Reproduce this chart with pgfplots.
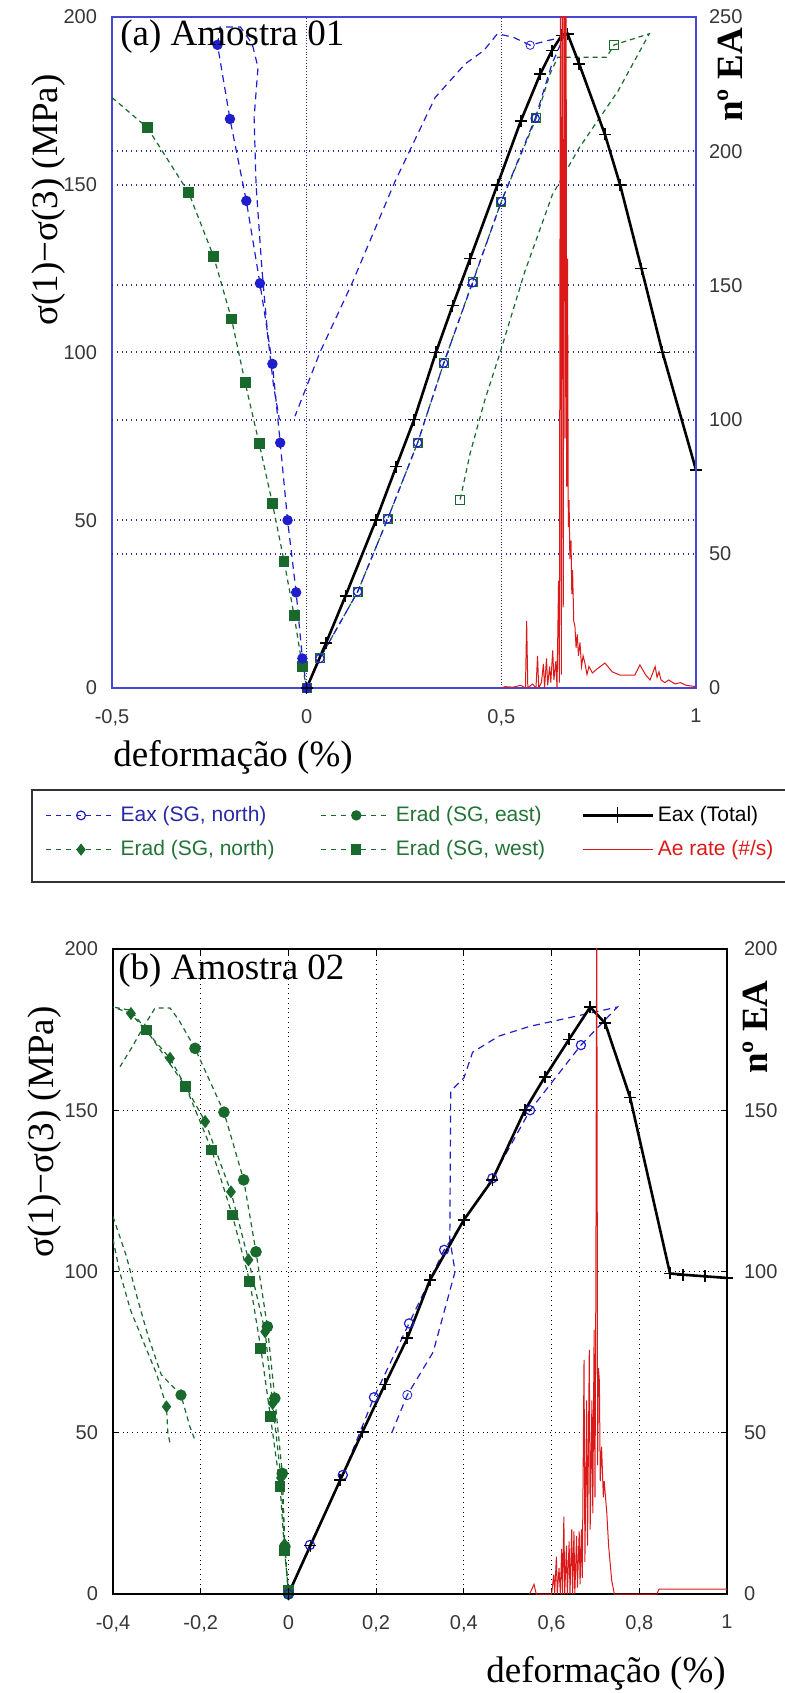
\documentclass[border=0pt]{standalone}
\usepackage{fontspec}
\setmainfont{Liberation Serif}
\newfontfamily\sansf{Liberation Sans}
\usepackage{pgfplots}
\pgfplotsset{compat=1.18}
\definecolor{axblue}{RGB}{70,70,215}
\definecolor{gridblue}{RGB}{45,45,150}
\definecolor{sblue}{RGB}{30,30,205}
\definecolor{sgreen}{RGB}{25,105,45}
\definecolor{sred}{RGB}{220,25,25}
\definecolor{tickgray}{RGB}{55,55,55}
\definecolor{legblue}{RGB}{40,40,165}
\definecolor{leggreen}{RGB}{35,115,55}
\newcommand{\lbl}{\fontsize{18.5}{20}\selectfont}
\pgfplotsset{
 tlab/.style={font=\sansf\fontsize{10}{12}\selectfont, text=tickgray},
 gdash/.style={color=sgreen, dash pattern=on 2.5pt off 2pt, line width=0.6pt, mark options={solid}},
 bdash/.style={color=sblue, dash pattern=on 3.5pt off 2.5pt, line width=0.6pt, mark options={solid}},
 tot/.style={black, line width=1.3pt, mark=+, mark size=3pt, mark options={solid, line width=0.8pt}},
}
\begin{document}
\begin{tikzpicture}
\path[use as bounding box] (0pt,0pt) rectangle (392pt,846.5pt);
% ================= Panel (a) =================
\begin{axis}[
 at={(56pt,502.5pt)}, anchor=south west, scale only axis,
 width=292pt, height=335.5pt,
 xmin=-0.5, xmax=1, ymin=0, ymax=200,
 xtick={-0.5,0,0.5,1}, xticklabels={{-0,5},0,{0,5},1},
 ytick={0,50,100,150,200}, yticklabels={0,50,100,150,200},
 xticklabel style={tlab, yshift=-7pt},
 yticklabel style={tlab, xshift=-4pt},
 major tick length=0pt,
 axis line style={draw=axblue, line width=1pt},
 xmajorgrids, ymajorgrids,
 x grid style={gridblue, densely dotted, line width=0.5pt},
 y grid style={gridblue, dotted, line width=1pt},
 extra y ticks={40,80,120,160}, extra y tick labels={},
 extra y tick style={grid=major, major tick length=0pt},
 legend columns=3,
 legend cell align=left,
 legend image code/.code={\draw[mark repeat=2,mark phase=2,#1] plot coordinates {(0pt,0pt)(17.5pt,0pt)(35pt,0pt)};},
 legend style={at={(-0.1147,-0.2154)}, anchor=west, draw=none, fill=none, inner sep=0pt,
   font=\sansf\fontsize{10.5}{12.5}\selectfont, row sep=6pt,
   nodes={inner sep=1pt},
   /tikz/every odd column/.append style={column sep=1pt},
   /tikz/column 2/.append style={column sep=22pt},
   /tikz/column 4/.append style={column sep=17pt}},
]
\addlegendimage{sblue, dash pattern=on 2.5pt off 2.5pt, line width=0.6pt, mark=o, mark size=2.2pt, mark options={solid}}
\addlegendentry{\textcolor{legblue}{Eax (SG, north)}}
\addlegendimage{sgreen, dash pattern=on 2.5pt off 2.5pt, line width=0.6pt, mark=*, mark size=2.3pt, mark options={solid}}
\addlegendentry{\textcolor{leggreen}{Erad (SG, east)}}
\addlegendimage{black, line width=1.3pt, mark=+, mark size=4pt, mark options={solid, line width=0.8pt}}
\addlegendentry{Eax (Total)}
\addlegendimage{sgreen, dash pattern=on 2.5pt off 2.5pt, line width=0.6pt, mark=diamond*, mark size=2.6pt, mark options={solid}}
\addlegendentry{\textcolor{leggreen}{Erad (SG, north)}}
\addlegendimage{sgreen, dash pattern=on 2.5pt off 2.5pt, line width=0.6pt, mark=square*, mark size=2.3pt, mark options={solid}}
\addlegendentry{\textcolor{leggreen}{Erad (SG, west)}}
\addlegendimage{sred, line width=0.6pt}
\addlegendentry{\textcolor{sred}{Ae rate (\#/s)}}
% Erad (SG, west): green filled squares
\addplot[gdash, mark=square*, mark size=2.4pt, forget plot] coordinates {
(-0.409,167)(-0.303,147.6)(-0.239,128.6)(-0.193,110)(-0.158,91)(-0.122,72.9)(-0.088,55)(-0.058,37.8)(-0.032,21.5)(-0.011,6.4)};
\addplot[gdash, forget plot] coordinates {(-0.5,176)(-0.409,167)};
\addplot[gdash, forget plot] coordinates {(-0.011,6.4)(0,0)};
% second axial gauge: green open squares
\addplot[gdash, mark=square, mark size=2.2pt, forget plot] coordinates {
(0,0)(0.034,8.8)(0.131,28.7)(0.208,50.4)(0.285,73.1)(0.352,96.8)(0.426,121)(0.5,145)(0.59,170)};
\addplot[gdash, forget plot] coordinates {
(0.59,170)(0.625,183)(0.645,188)(0.77,188)(0.79,191.7)(0.88,195)(0.8,178)(0.7,161)(0.631,147)(0.56,124)(0.497,100)(0.458,86)(0.42,70)(0.394,56)};
\addplot[sgreen, only marks, mark=square, mark size=2.2pt, forget plot] coordinates {(0.79,191.7)(0.394,56)};
% blue filled circles (radial)
\addplot[bdash, mark=*, mark size=2.3pt, forget plot] coordinates {
(0,0)(-0.011,8.8)(-0.027,28.5)(-0.049,50)(-0.068,73.1)(-0.088,96.6)(-0.12,120.6)(-0.155,145.2)(-0.197,169.6)(-0.229,191.7)};
\addplot[bdash, forget plot] coordinates {
(-0.229,191.7)(-0.222,197)(-0.17,197)(-0.14,192)(-0.125,185)(-0.135,170)(-0.13,150)(-0.115,125)(-0.1,105)(-0.085,90)(-0.07,80)};
% Eax (SG, north): blue open circles
\addplot[bdash, mark=o, mark size=2.1pt, forget plot] coordinates {
(0,0)(0.034,8.8)(0.131,28.7)(0.208,50.4)(0.285,73.1)(0.352,96.8)(0.426,120.8)(0.5,145)(0.587,169.8)};
\addplot[bdash, forget plot] coordinates {
(0.587,169.8)(0.63,186)(0.66,194)(0.62,193)(0.574,191.6)(0.53,194)(0.49,195)(0.455,190)(0.407,186)(0.33,176)(0.227,151)(0.118,121)(0.034,100)(-0.03,81)};
\addplot[sblue, only marks, mark=o, mark size=2.1pt, forget plot] coordinates {(0.574,191.6)};
% Eax (Total)
\addplot[tot, forget plot] coordinates {
(0,0)(0.05,13.5)(0.1,27.5)(0.178,50)(0.23,66)(0.276,80)(0.332,100)(0.375,114)(0.42,128)(0.49,150)(0.55,169)(0.6,183)(0.63,190)(0.655,194.5)(0.67,195)(0.7,186)(0.766,165)(0.805,150)(0.86,125)(0.914,100)(1.0,65)};
\end{axis}
\begin{axis}[
 at={(56pt,502.5pt)}, anchor=south west, scale only axis,
 width=292pt, height=335.5pt,
 xmin=-0.5, xmax=1, ymin=0, ymax=250,
 axis x line=none, axis y line*=right,
 ytick={0,50,100,150,200,250}, yticklabels={0,50,100,150,200,250},
 yticklabel style={tlab, xshift=3pt},
 major tick length=0pt,
 y axis line style={draw=axblue, line width=1pt},
]
\addplot[sred, line width=0.5pt] coordinates {
(0.5,0)(0.51,0.5)(0.53,0.3)(0.55,1)(0.562,0)(0.565,25)(0.568,0)(0.58,1.5)(0.589,0)(0.593,12)(0.596,0)(0.603,2)(0.608,9)(0.611,0)(0.616,11)(0.619,1)(0.624,8)(0.627,2)(0.632,14)(0.635,3)(0.64,10)(0.643,0)(0.647,40)(0.649,2)(0.652,300)(0.654,5)(0.657,300)(0.659,30)(0.662,300)(0.664,93)(0.666,300)(0.668,75)(0.67,160)(0.672,60)(0.674,70)(0.676,48)(0.679,55)(0.681,35)(0.683,44)(0.686,25)(0.689,23)(0.692,15)(0.695,20)(0.698,12)(0.702,17)(0.706,8)(0.71,12)(0.715,9)(0.72,5)(0.725,8)(0.734,5.6)(0.745,7)(0.766,9.3)(0.785,6)(0.805,4.8)(0.843,4.8)(0.856,8.6)(0.87,5)(0.882,3)(0.89,6)(0.895,8)(0.9,4)(0.905,6)(0.91,3)(0.92,2)(0.93,3)(0.946,1.5)(0.96,2)(0.975,1)(1.0,0.5)};
\end{axis}
% ================= Panel (b) =================
\begin{axis}[
 at={(56.5pt,49.5pt)}, anchor=south west, scale only axis,
 width=307pt, height=322.5pt,
 xmin=-0.4, xmax=1, ymin=0, ymax=200,
 xtick={-0.4,-0.2,0,0.2,0.4,0.6,0.8,1}, xticklabels={{-0,4},{-0,2},0,{0,2},{0,4},{0,6},{0,8},1},
 ytick={0,50,100,150,200}, yticklabels={0,50,100,150,200},
 xticklabel style={tlab, yshift=-7pt},
 yticklabel style={tlab, xshift=-4pt},
 tick align=inside, major tick length=3pt,
 tick style={black, line width=0.6pt},
 axis line style={black, line width=0.7pt},
 xmajorgrids, ymajorgrids,
 grid style={black, dotted, line width=0.6pt},
]
% Erad (SG, west)
\addplot[gdash, mark=square*, mark size=2.4pt] coordinates {
(0,1)(-0.009,13.6)(-0.019,33.3)(-0.041,55)(-0.063,76.2)(-0.088,96.8)(-0.128,117.5)(-0.175,137.7)(-0.234,157.3)(-0.324,174.9)};
\addplot[gdash] coordinates {(-0.324,174.9)(-0.36,181)(-0.4,182)};
% Erad (SG, north)
\addplot[gdash, mark=diamond*, mark size=2.8pt] coordinates {
(0,0)(-0.009,15.3)(-0.017,36)(-0.036,59.1)(-0.053,81.3)(-0.091,103.6)(-0.131,124.7)(-0.19,146.5)(-0.27,166.1)(-0.359,180)};
\addplot[gdash] coordinates {(-0.359,180)(-0.4,182)};
\addplot[gdash] coordinates {(-0.4,110)(-0.385,100)(-0.36,88)(-0.33,78)(-0.3,68)(-0.278,58.1)(-0.275,50)(-0.27,46.8)};
\addplot[sgreen, only marks, mark=diamond*, mark size=2.8pt] coordinates {(-0.278,58.1)};
% Erad (SG, east)
\addplot[gdash, mark=*, mark size=2.6pt] coordinates {
(0,0)(-0.008,14.7)(-0.014,37.4)(-0.031,60.7)(-0.048,82.9)(-0.074,106.1)(-0.102,128.4)(-0.147,149.4)(-0.213,169.2)};
\addplot[gdash] coordinates {(-0.213,169.2)(-0.25,178)(-0.27,181.7)(-0.304,181.7)(-0.33,176)(-0.356,169.7)(-0.384,163.5)};
\addplot[gdash] coordinates {(-0.4,117)(-0.37,105)(-0.345,92)(-0.32,80)(-0.29,68)(-0.245,61.7)(-0.225,52)(-0.213,47.7)};
\addplot[sgreen, only marks, mark=*, mark size=2.6pt] coordinates {(-0.245,61.7)};
% Eax (SG, north)
\addplot[bdash, mark=o, mark size=2.3pt] coordinates {
(0,0)(0.049,15.2)(0.124,36.9)(0.195,61)(0.275,83.9)(0.355,106.7)(0.465,128.9)(0.551,150)(0.667,170.2)};
\addplot[bdash] coordinates {
(0.667,170.2)(0.75,182)(0.65,179)(0.55,176)(0.48,173)(0.42,168)(0.40,160)(0.37,156)(0.368,110)(0.38,100)(0.33,75)(0.271,61.7)(0.232,48.8)};
\addplot[sblue, only marks, mark=o, mark size=2.3pt] coordinates {(0.271,61.7)};
% Eax (Total)
\addplot[tot] coordinates {
(0,0)(0.05,15)(0.118,35.3)(0.169,50.3)(0.22,65)(0.271,79.3)(0.323,97.4)(0.4,116)(0.465,128.4)(0.539,150)(0.585,160.4)(0.64,172)(0.688,182)(0.722,177)(0.779,154)(0.87,99.4)(0.9,99)(0.95,98.5)(1.0,98)};
\end{axis}
\begin{axis}[
 at={(56.5pt,49.5pt)}, anchor=south west, scale only axis,
 width=307pt, height=322.5pt,
 xmin=-0.4, xmax=1, ymin=0, ymax=200,
 axis x line=none, axis y line*=right,
 ytick={0,50,100,150,200}, yticklabels={0,50,100,150,200},
 yticklabel style={tlab, xshift=5pt},
 major tick length=0pt,
 y axis line style={black, line width=0.7pt},
]
\addplot[sred, line width=0.5pt] coordinates {
(0.55,0)(0.56,3)(0.565,0)(0.6,0)(0.605,6)(0.607,0)(0.611,11.6)(0.613,0)(0.617,8)(0.62,0)(0.623,14)(0.625,0)(0.628,24)(0.63,0)(0.634,15)(0.636,0)(0.64,16.3)(0.642,0)(0.646,20)(0.648,0)(0.651,19.4)(0.653,0)(0.657,18)(0.659,2)(0.663,19.4)(0.665,3)(0.668,20)(0.67,5)(0.674,72.6)(0.676,10)(0.68,60)(0.682,15)(0.686,75.7)(0.688,20)(0.692,60)(0.694,25)(0.697,81.9)(0.699,30)(0.701,97)(0.703,220)(0.705,40)(0.707,70)(0.709,66)(0.711,35)(0.714,45.7)(0.718,30)(0.72,35)(0.726,25)(0.73,15)(0.737,4.3)(0.743,0)(0.84,0)(0.845,1.5)(1.0,1.5)};
\end{axis}
% ================= texts =================
\node[anchor=west, font=\lbl, inner sep=0pt] at (60pt,828pt) {(a) Amostra 01};
\node[font=\lbl] at (116.5pt,468pt) {deformação (\%)};
\node[font=\lbl, rotate=90] at (24.5pt,746.5pt) {σ(1)−σ(3) (MPa)};
\node[font=\lbl\bfseries, rotate=90] at (365pt,809pt) {nº EA};
\node[anchor=west, font=\lbl, inner sep=0pt] at (59pt,361pt) {(b) Amostra 02};
\node[font=\lbl] at (303pt,10pt) {deformação (\%)};
\node[font=\lbl, rotate=90] at (22.5pt,280.5pt) {σ(1)−σ(3) (MPa)};
\node[font=\lbl\bfseries, rotate=90] at (377.5pt,333pt) {nº EA};
\draw[black!80, line width=0.7pt] (16pt,405.5pt) rectangle (396pt,451.5pt);
\end{tikzpicture}
\end{document}
